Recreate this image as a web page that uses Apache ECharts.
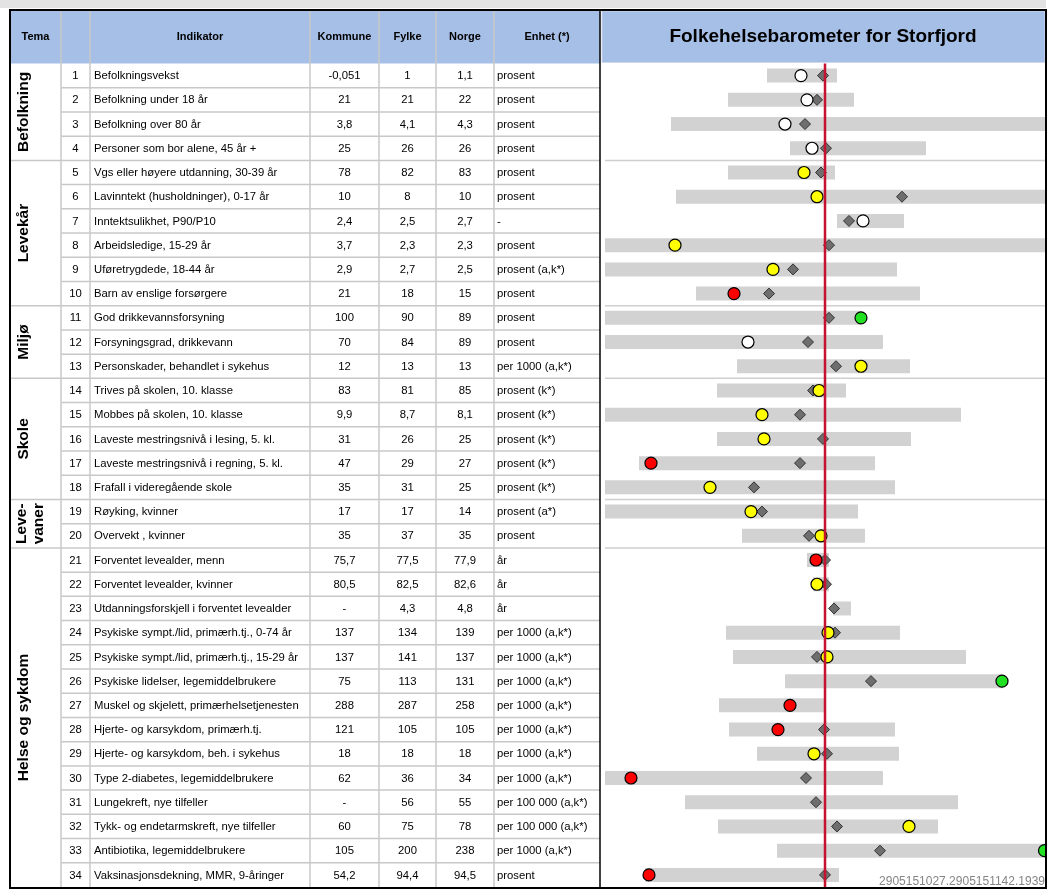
<!DOCTYPE html>
<html><head><meta charset="utf-8">
<script src="https://cdn.jsdelivr.net/npm/echarts@6/dist/echarts.min.js"></script>
<style>html,body{margin:0;padding:0;background:#fff}#c{width:1052px;height:893px}</style>
</head><body><div id="c"></div>
<script>
// ---------------- DATA ----------------
const title = 'Folkehelsebarometer for Storfjord';
const headers = ['Tema', '', 'Indikator', 'Kommune', 'Fylke', 'Norge', 'Enhet (*)'];
const rowNumbers = ['1','2','3','4','5','6','7','8','9','10','11','12','13','14','15','16','17','18','19','20','21','22','23','24','25','26','27','28','29','30','31','32','33','34'];
const indicators = [
  'Befolkningsvekst','Befolkning under 18 år','Befolkning over 80 år','Personer som bor alene, 45 år +',
  'Vgs eller høyere utdanning, 30-39 år','Lavinntekt (husholdninger), 0-17 år','Inntektsulikhet, P90/P10',
  'Arbeidsledige, 15-29 år','Uføretrygdede, 18-44 år','Barn av enslige forsørgere',
  'God drikkevannsforsyning','Forsyningsgrad, drikkevann','Personskader, behandlet i sykehus',
  'Trives på skolen, 10. klasse','Mobbes på skolen, 10. klasse','Laveste mestringsnivå i lesing, 5. kl.',
  'Laveste mestringsnivå i regning, 5. kl.','Frafall i videregående skole',
  'Røyking, kvinner','Overvekt , kvinner',
  'Forventet levealder, menn','Forventet levealder, kvinner','Utdanningsforskjell i forventet levealder',
  'Psykiske sympt./lid, primærh.tj., 0-74 år','Psykiske sympt./lid, primærh.tj., 15-29 år',
  'Psykiske lidelser, legemiddelbrukere','Muskel og skjelett, primærhelsetjenesten',
  'Hjerte- og karsykdom, primærh.tj.','Hjerte- og karsykdom, beh. i sykehus','Type 2-diabetes, legemiddelbrukere',
  'Lungekreft, nye tilfeller','Tykk- og endetarmskreft, nye tilfeller','Antibiotika, legemiddelbrukere',
  'Vaksinasjonsdekning, MMR, 9-åringer'
];
const kommuneValues = ['-0,051','21','3,8','25','78','10','2,4','3,7','2,9','21','100','70','12','83','9,9','31','47','35','17','35','75,7','80,5','-','137','137','75','288','121','18','62','-','60','105','54,2'];
const fylkeValues = ['1','21','4,1','26','82','8','2,5','2,3','2,7','18','90','84','13','81','8,7','26','29','31','17','37','77,5','82,5','4,3','134','141','113','287','105','18','36','56','75','200','94,4'];
const norgeValues = ['1,1','22','4,3','26','83','10','2,7','2,3','2,5','15','89','89','13','85','8,1','25','27','25','14','35','77,9','82,6','4,8','139','137','131','258','105','18','34','55','78','238','94,5'];
const units = ['prosent','prosent','prosent','prosent','prosent','prosent','-','prosent','prosent (a,k*)','prosent',
  'prosent','prosent','per 1000 (a,k*)','prosent (k*)','prosent (k*)','prosent (k*)','prosent (k*)','prosent (k*)',
  'prosent (a*)','prosent','år','år','år','per 1000 (a,k*)','per 1000 (a,k*)','per 1000 (a,k*)','per 1000 (a,k*)',
  'per 1000 (a,k*)','per 1000 (a,k*)','per 1000 (a,k*)','per 100 000 (a,k*)','per 100 000 (a,k*)','per 1000 (a,k*)','prosent'];
const themeNames = ['Befolkning', 'Levekår', 'Miljø', 'Skole', 'Leve-\nvaner', 'Helse og sykdom'];
const themeFirstRow = [0, 4, 10, 13, 18, 20];
const themeLastRow = [3, 9, 12, 17, 19, 33];

// Barometer: standardised positions, Norway = 0
const norgeRef = 0;
const rangeLow  = [-58,-97,-154,-35,-97,-149,12,-220,-220,-129,-220,-220,-88,-108,-220,-108,-186,-220,-220,-83,-18,-12,8,-99,-92,-40,-106,-96,-68,-220,-140,-107,-48,-180];
const rangeHigh = [12,29,220,101,10,220,79,220,72,95,36,58,85,21,136,86,50,70,33,40,4,4,26,75,141,178,0,70,74,58,133,113,220,14];
const fylkePos  = [-2,-8,-20,1,-4,77,24,4,-32,-56,4,-17,11,-12,-25,-2,-25,-71,-63,-16,0,1,9,10,-8,46,null,-1,2,-19,-9,12,55,0];
const kommunePos = [-24,-18,-40,-13,-21,-8,38,-150,-52,-91,36,-77,36,-6,-63,-61,-174,-115,-74,-4,-9,-8,null,3,2,177,-35,-47,-11,-194,null,84,219.5,-176];
const kommuneStatus = ['white','white','white','white','yellow','yellow','white','yellow','yellow','red','green','white','yellow','yellow','yellow','yellow','red','yellow','yellow','yellow','red','yellow',null,'yellow','yellow','green','red','red','yellow','red',null,'yellow','green','red'];
const footnote = '2905151027.2905151142.1939';

// ---------------- LAYOUT / STYLE ----------------
const FONT = '"Liberation Sans", Arial, sans-serif';
const L = { tableLeft: 10, tableW: 590, bodyTop: 63.5, bodyH: 823.5, headTop: 10,
            chartLeft: 605, chartW: 440, chartMin: -220, chartMax: 220, panelRight: 1046, panelBottom: 888 };
const colEdges = [0, 51, 80, 300, 369, 426, 484, 590];
const statusColor = { white: '#ffffff', yellow: '#ffff00', red: '#ff0000', green: '#22e022' };
const HEAD_BLUE = '#a6bfe7';
const GRID_GRAY = '#c8c8c8';
const BAR_H = 14;
const CELL_FONT = '11.3px ' + FONT;

const chart = echarts.init(document.getElementById('c'), null, { renderer: 'canvas' });

function renderRow(params, api) {
  const i = api.value(1);
  const yc = api.coord([0, i])[1];
  const rh = api.size([0, 1])[1];
  const top = yc - rh / 2, bot = yc + rh / 2;
  const X = v => api.coord([v, i])[0];
  const txt = (x, s, align) => ({ type: 'text', x: x, y: yc + 0.5,
    style: { text: s, align: align, verticalAlign: 'middle', font: CELL_FONT, fill: '#000' } });
  const mid = k => (X(colEdges[k]) + X(colEdges[k + 1])) / 2;
  const ch = [];
  ch.push(txt(mid(1), rowNumbers[i], 'center'));
  ch.push(txt(X(colEdges[2]) + 4, indicators[i], 'left'));
  ch.push(txt(mid(3), kommuneValues[i], 'center'));
  ch.push(txt(mid(4), fylkeValues[i], 'center'));
  ch.push(txt(mid(5), norgeValues[i], 'center'));
  ch.push(txt(X(colEdges[6]) + 3, units[i], 'left'));
  const groupEnd = themeLastRow.indexOf(i) >= 0;
  if (i < rowNumbers.length - 1) {
    ch.push({ type: 'line', shape: { x1: X(groupEnd ? 0 : colEdges[1]), y1: bot, x2: X(colEdges[7]), y2: bot },
      style: { stroke: GRID_GRAY, lineWidth: 1.5 } });
  }
  for (let k = 1; k <= 6; k++) {
    ch.push({ type: 'line', shape: { x1: X(colEdges[k]), y1: top, x2: X(colEdges[k]), y2: bot },
      style: { stroke: GRID_GRAY, lineWidth: 1.5 } });
  }
  return { type: 'group', children: ch };
}

// header graphics
const graphics = [];
graphics.push({ type: 'rect', shape: { x: 0, y: 0, width: 1052, height: 8 }, style: { fill: '#e3e3e3' }, z: 0 });
graphics.push({ type: 'rect', shape: { x: L.tableLeft, y: L.headTop, width: L.tableW, height: L.bodyTop - L.headTop }, style: { fill: HEAD_BLUE }, z: 0 });
for (let k = 1; k <= 6; k++) {
  const x = L.tableLeft + colEdges[k];
  graphics.push({ type: 'line', shape: { x1: x, y1: L.headTop, x2: x, y2: L.bodyTop }, style: { stroke: GRID_GRAY, lineWidth: 1.5 }, z: 1 });
}
headers.forEach((h, k) => {
  graphics.push({ type: 'text', x: L.tableLeft + (colEdges[k] + colEdges[k + 1]) / 2, y: 37,
    style: { text: h, align: 'center', verticalAlign: 'middle', font: 'bold 11px ' + FONT, fill: '#000' }, z: 2 });
});
graphics.push({ type: 'rect', shape: { x: 602, y: L.headTop + 1, width: L.panelRight - 603, height: L.bodyTop - L.headTop - 2 },
  style: { fill: HEAD_BLUE, stroke: '#cdd8ee', lineWidth: 1 }, z: 0 });
graphics.push({ type: 'text', x: (600 + L.panelRight) / 2, y: 37,
  style: { text: title, align: 'center', verticalAlign: 'middle', font: 'bold 19px ' + FONT, fill: '#000' }, z: 2 });
// mask right of panel & borders
graphics.push({ type: 'rect', shape: { x: L.panelRight, y: 0, width: 10, height: 893 }, style: { fill: '#fff' }, z: 90 });
graphics.push({ type: 'rect', shape: { x: L.tableLeft, y: L.headTop, width: L.panelRight - L.tableLeft, height: L.panelBottom - L.headTop },
  style: { fill: 'none', stroke: '#000', lineWidth: 2 }, z: 100 });
graphics.push({ type: 'line', shape: { x1: 600, y1: L.headTop, x2: 600, y2: L.panelBottom }, style: { stroke: '#000', lineWidth: 1.5 }, z: 100 });
graphics.push({ type: 'text', x: L.panelRight - 1, y: 882,
  style: { text: footnote, align: 'right', verticalAlign: 'middle', font: '12px ' + FONT, fill: '#858585' }, z: 95 });

const option = {
  animation: false,
  backgroundColor: '#ffffff',
  grid: [
    { left: L.tableLeft, top: L.bodyTop, width: L.tableW, height: L.bodyH },
    { left: L.chartLeft, top: L.bodyTop, width: L.chartW, height: L.bodyH }
  ],
  xAxis: [
    { gridIndex: 0, type: 'value', min: 0, max: L.tableW, show: false },
    { gridIndex: 1, type: 'value', min: L.chartMin, max: L.chartMax, show: false }
  ],
  yAxis: [
    { gridIndex: 0, type: 'category', data: rowNumbers, inverse: true, show: false },
    { gridIndex: 1, type: 'category', data: rowNumbers, inverse: true, show: false }
  ],
  graphic: { elements: graphics },
  series: [
    { type: 'custom', name: 'table', xAxisIndex: 0, yAxisIndex: 0, silent: true, z: 3,
      data: rowNumbers.map((r, i) => [0, i]), encode: { x: 0, y: 1 }, renderItem: renderRow },
    { type: 'custom', name: 'tema', xAxisIndex: 0, yAxisIndex: 0, silent: true, z: 4,
      data: themeNames.map((n, k) => [0, themeFirstRow[k], themeLastRow[k], k]), encode: { x: 0, y: [1, 2] },
      renderItem: (params, api) => {
        const k = api.value(3);
        const y1 = api.coord([0, api.value(1)])[1], y2 = api.coord([0, api.value(2)])[1];
        const name = themeNames[k];
        const xc = api.coord([name.indexOf('\n') >= 0 ? 20 : 14, 0])[0];
        return { type: 'text', x: xc, y: (y1 + y2) / 2, rotation: Math.PI / 2,
          style: { text: name, align: 'center', verticalAlign: 'middle', font: 'bold 15.5px ' + FONT, fill: '#000', lineHeight: 17 } };
      } },
    { type: 'custom', name: 'separators', xAxisIndex: 1, yAxisIndex: 1, silent: true, z: 1,
      data: themeLastRow.slice(0, -1).map(r => [0, r]), encode: { x: 0, y: 1 },
      renderItem: (params, api) => {
        const i = api.value(1);
        const y = api.coord([0, i])[1] + api.size([0, 1])[1] / 2;
        const cs = params.coordSys;
        return { type: 'line', shape: { x1: cs.x, y1: y, x2: cs.x + cs.width, y2: y }, style: { stroke: '#cfcfcf', lineWidth: 1.5 } };
      } },
    { type: 'custom', name: 'range', xAxisIndex: 1, yAxisIndex: 1, silent: true, z: 2,
      data: rangeLow.map((lo, i) => [lo, rangeHigh[i], i]), encode: { x: [0, 1], y: 2 },
      renderItem: (params, api) => {
        const i = api.value(2);
        const p1 = api.coord([api.value(0), i]), p2 = api.coord([api.value(1), i]);
        const cs = params.coordSys;
        const shape = echarts.graphic.clipRectByRect(
          { x: p1[0], y: p1[1] - BAR_H / 2, width: p2[0] - p1[0], height: BAR_H },
          { x: cs.x, y: cs.y, width: cs.width, height: cs.height });
        return shape && { type: 'rect', shape: shape, style: { fill: '#d2d2d2' } };
      } },
    { type: 'scatter', name: 'Fylke', xAxisIndex: 1, yAxisIndex: 1, z: 3, silent: true, clip: false,
      symbol: 'diamond', symbolSize: 11,
      itemStyle: { color: '#6e6e6e', borderColor: '#333', borderWidth: 1, opacity: 1 },
      data: fylkePos.map((v, i) => v == null ? null : [v, i]).filter(d => d) },
    { type: 'scatter', name: 'Kommune', xAxisIndex: 1, yAxisIndex: 1, z: 4, silent: true, clip: false,
      symbol: 'circle', symbolSize: 12,
      itemStyle: { borderColor: '#000', borderWidth: 1.2, opacity: 1 },
      data: kommunePos.map((v, i) => v == null ? null : { value: [v, i], itemStyle: { color: statusColor[kommuneStatus[i]] } }).filter(d => d) },
    { type: 'custom', name: 'Norge', xAxisIndex: 1, yAxisIndex: 1, silent: true, z: 6,
      data: [[norgeRef, 0]], encode: { x: 0, y: 1 },
      renderItem: (params, api) => {
        const x = api.coord([api.value(0), 0])[0];
        const cs = params.coordSys;
        return { type: 'line', shape: { x1: x, y1: cs.y, x2: x, y2: cs.y + cs.height + 2 }, style: { stroke: '#c4122f', lineWidth: 2.5 } };
      } }
  ]
};
chart.setOption(option);
</script>
</body></html>
